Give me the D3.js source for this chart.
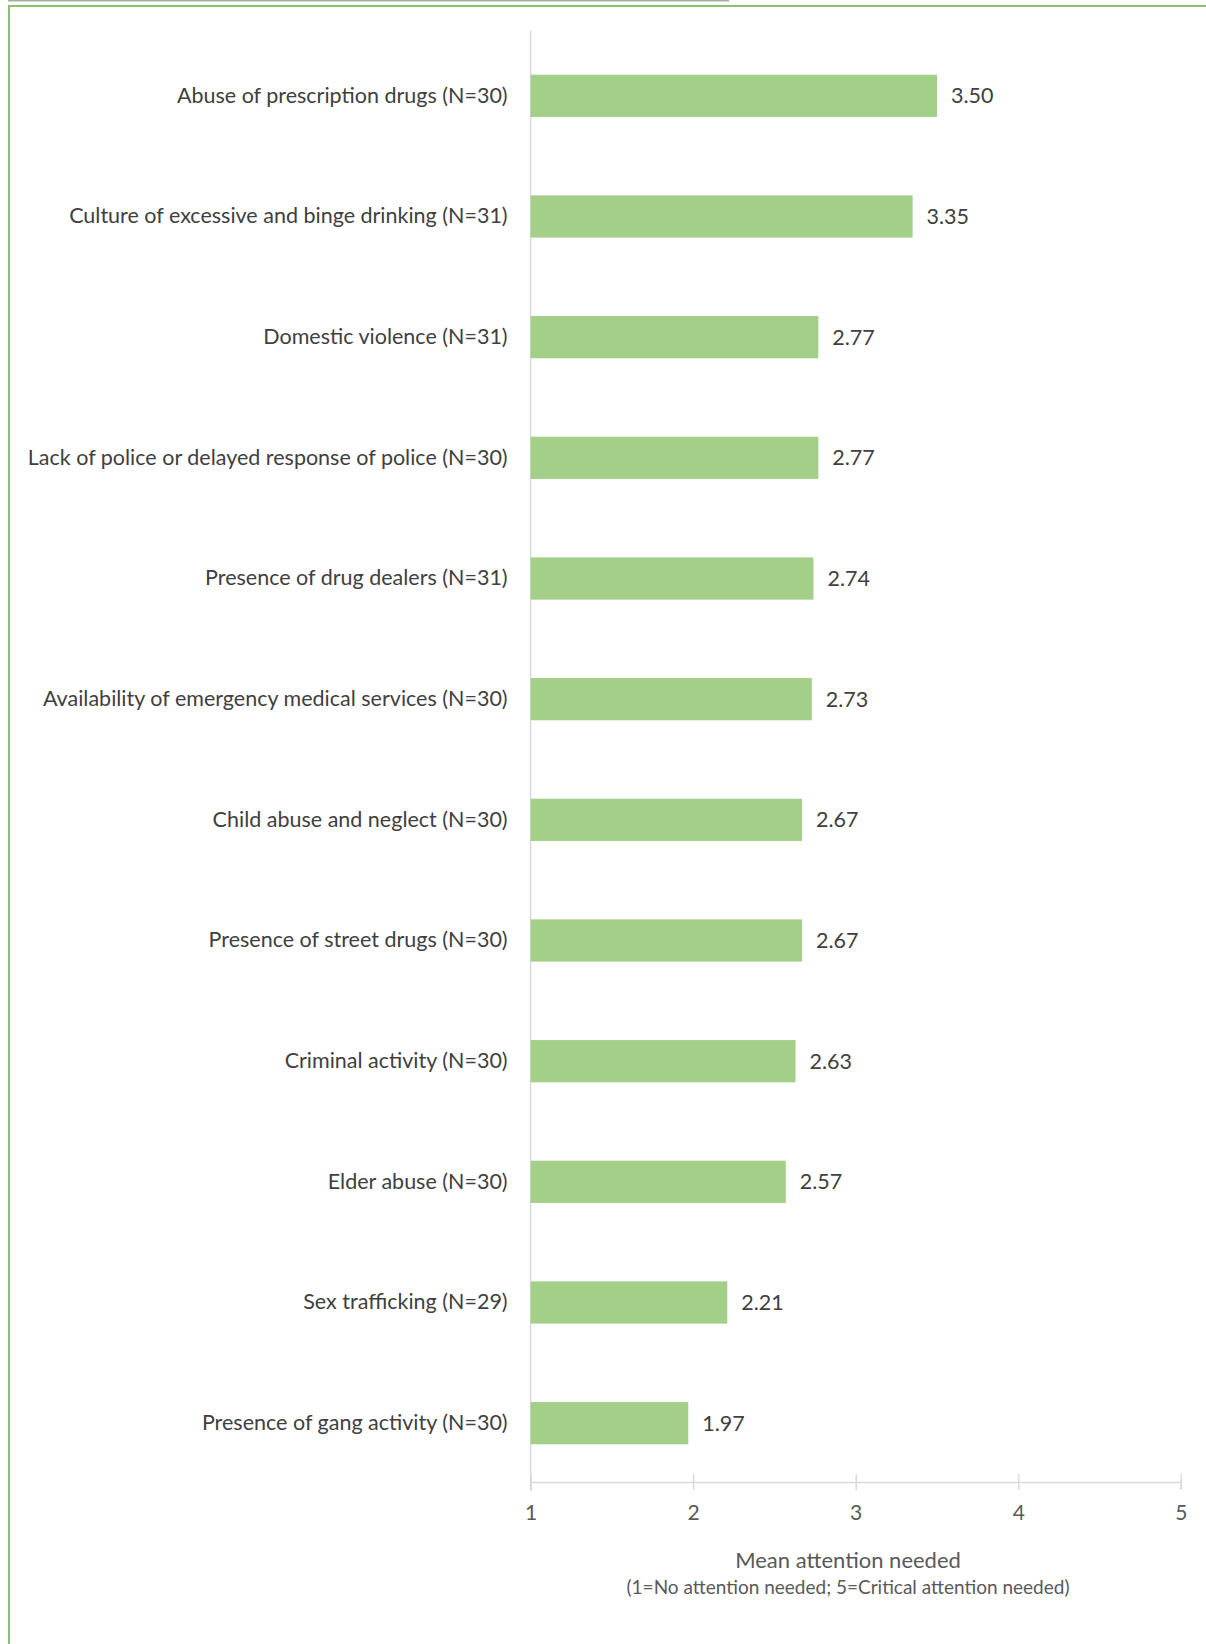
<!DOCTYPE html>
<html><head><meta charset="utf-8">
<script src="https://cdn.jsdelivr.net/npm/d3@7"></script>
<style>body{margin:0;background:#fff}svg{display:block}</style>
</head><body>
<svg id="c" width="1206" height="1644"></svg>
<script>
const categories = [
  "Abuse of prescription drugs (N=30)",
  "Culture of excessive and binge drinking (N=31)",
  "Domestic violence (N=31)",
  "Lack of police or delayed response of police (N=30)",
  "Presence of drug dealers (N=31)",
  "Availability of emergency medical services (N=30)",
  "Child abuse and neglect (N=30)",
  "Presence of street drugs (N=30)",
  "Criminal activity (N=30)",
  "Elder abuse (N=30)",
  "Sex trafficking (N=29)",
  "Presence of gang activity (N=30)"
];
const values = [3.50, 3.35, 2.77, 2.77, 2.74, 2.73, 2.67, 2.67, 2.63, 2.57, 2.21, 1.97];
const tickValues = [1, 2, 3, 4, 5];
const xTitle = "Mean attention needed";
const xSubtitle = "(1=No attention needed; 5=Critical attention needed)";

const FONT = "Lato, 'Open Sans', sans-serif";
const svg = d3.select("#c");

// frame lines
svg.append("rect").attr("x",0).attr("y",0).attr("width",1206).attr("height",1644).attr("fill","#ffffff");
svg.append("line").attr("x1",8).attr("x2",729).attr("y1",0.5).attr("y2",0.5).attr("stroke","#9fb59a").attr("stroke-width",2);
svg.append("line").attr("x1",8).attr("x2",1206).attr("y1",6).attr("y2",6).attr("stroke","#8fbf6e").attr("stroke-width",2);
svg.append("line").attr("x1",9).attr("x2",9).attr("y1",6).attr("y2",1644).attr("stroke","#8fbf6e").attr("stroke-width",2);

const x = d3.scaleLinear().domain([1, 5]).range([530.6, 1180.8]);
const y = d3.scaleBand().domain(categories).range([35.5, 1483.5]).paddingInner(0.65).paddingOuter(0.325);

const axisY = 1482;
// vertical axis line
svg.append("line").attr("x1", x(1)).attr("x2", x(1)).attr("y1", 31).attr("y2", axisY + 9)
  .attr("stroke", "#d9d9d9").attr("stroke-width", 1.5);

// bars
svg.append("g").selectAll("rect").data(values).join("rect")
  .attr("x", x(1))
  .attr("y", (d, i) => y(categories[i]))
  .attr("width", d => x(d) - x(1))
  .attr("height", y.bandwidth())
  .attr("fill", "#a3cf88");

// value labels
svg.append("g").selectAll("text").data(values).join("text")
  .attr("x", d => x(d) + 14)
  .attr("y", (d, i) => y(categories[i]) + y.bandwidth() / 2)
  .attr("dy", "0.35em")
  .attr("font-family", FONT).attr("font-size", 21.5).attr("fill", "#404040")
  .text(d => d.toFixed(2));

// y axis labels
const gy = svg.append("g").attr("transform", `translate(${x(1)},0)`)
  .call(d3.axisLeft(y).tickSize(0).tickPadding(23));
gy.select(".domain").remove();
gy.selectAll("text").attr("font-family", FONT).attr("font-size", 21.5).attr("fill", "#404040");

// x axis
const gx = svg.append("g").attr("transform", `translate(0,${axisY})`)
  .call(d3.axisBottom(x).tickValues(tickValues).tickFormat(d3.format("d")).tickSize(8).tickPadding(15));
gx.select(".domain").attr("stroke", "#d9d9d9").attr("stroke-width", 1.5);
gx.selectAll(".tick line").attr("y1", -8).attr("y2", 8).attr("stroke", "#d9d9d9").attr("stroke-width", 1.5);
gx.selectAll(".tick text").attr("font-family", FONT).attr("font-size", 21).attr("fill", "#595959");

// axis titles
const cx = 848;
svg.append("text").attr("x", cx).attr("y", 1568).attr("text-anchor", "middle")
  .attr("font-family", FONT).attr("font-size", 22).attr("fill", "#595959").text(xTitle);
svg.append("text").attr("x", cx).attr("y", 1594).attr("text-anchor", "middle")
  .attr("font-family", FONT).attr("font-size", 19).attr("fill", "#595959").text(xSubtitle);
</script>
</body></html>
